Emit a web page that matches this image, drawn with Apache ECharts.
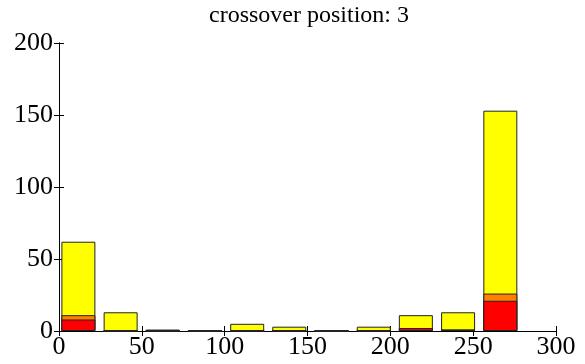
<!DOCTYPE html>
<html>
<head>
<meta charset="utf-8">
<script src="https://cdn.jsdelivr.net/npm/echarts@6/dist/echarts.min.js"></script>
<style>
  html, body { margin: 0; padding: 0; background: #fff; }
  #main { width: 585px; height: 364px; }
</style>
</head>
<body>
<div id="main"></div>
<script>
// bin centres of the histogram
var binCenters = [11.7, 37.2, 62.6, 88.1, 113.6, 139.0, 164.5, 190.0, 215.4, 240.9, 266.4];
// stacked counts, bottom to top
var redCounts    = [8, 0, 0, 0, 0, 0, 0, 0, 2, 1, 21];
var orangeCounts = [3, 0, 0, 0, 0, 0, 0, 0, 0, 0, 5];
var yellowCounts = [51, 13, 1, 0, 5, 3, 0, 3, 9, 12, 127];
var xTicks = [0, 50, 100, 150, 200, 250, 300];
var yTicks = [0, 50, 100, 150, 200];

var FONT = 'Liberation Serif';

// stack tops by hand (value base axis): each layer is drawn from 0 to its cumulative top,
// the upper layers first so the lower ones sit on top of them
function cumulative(layers) {
    var out = [];
    for (var i = 0; i < binCenters.length; i++) {
        var s = 0;
        for (var k = 0; k < layers.length; k++) s += layers[k][i];
        out.push([binCenters[i], s]);
    }
    return out;
}

function barSeries(name, data, color) {
    return {
        name: name,
        type: 'bar',
        barWidth: 34,
        barGap: '-100%',
        data: data,
        itemStyle: { color: color, borderColor: '#222', borderWidth: 1 },
        emphasis: { disabled: true }
    };
}

var axisLineStyle = { show: true, lineStyle: { color: '#000', width: 1 } };
var tickStyle = { show: true, inside: true, length: 5, lineStyle: { color: '#000' } };
var labelStyle = { color: '#000', fontFamily: FONT, fontSize: 26 };

var option = {
    animation: false,
    backgroundColor: '#fff',
    title: {
        text: 'crossover position: 3',
        left: 309,
        textAlign: 'center',
        top: 4,
        padding: 0,
        textStyle: { color: '#000', fontFamily: FONT, fontSize: 24, fontWeight: 'normal' }
    },
    grid: { left: 59, right: 29, top: 43, bottom: 33 },
    xAxis: [
        {
            type: 'value', min: xTicks[0], max: xTicks[xTicks.length - 1], interval: 50,
            axisLine: axisLineStyle, axisTick: tickStyle,
            axisLabel: Object.assign({ margin: 3 }, labelStyle),
            splitLine: { show: false }
        },
        {
            type: 'value', position: 'top', min: xTicks[0], max: xTicks[xTicks.length - 1], interval: 50,
            axisLine: axisLineStyle, axisTick: tickStyle,
            axisLabel: { show: false }, splitLine: { show: false }
        }
    ],
    yAxis: [
        {
            type: 'value', min: yTicks[0], max: yTicks[yTicks.length - 1], interval: 50,
            axisLine: axisLineStyle, axisTick: tickStyle,
            axisLabel: Object.assign({ margin: 6 }, labelStyle),
            splitLine: { show: false }
        },
        {
            type: 'value', position: 'right', min: yTicks[0], max: yTicks[yTicks.length - 1], interval: 50,
            axisLine: axisLineStyle, axisTick: tickStyle,
            axisLabel: { show: false }, splitLine: { show: false }
        }
    ],
    series: [
        barSeries('yellow', cumulative([redCounts, orangeCounts, yellowCounts]), '#ffff00'),
        barSeries('orange', cumulative([redCounts, orangeCounts]), '#ff8000'),
        barSeries('red', cumulative([redCounts]), '#ff0000')
    ]
};

var chart = echarts.init(document.getElementById('main'), null, { renderer: 'canvas' });
chart.setOption(option);
</script>
</body>
</html>
